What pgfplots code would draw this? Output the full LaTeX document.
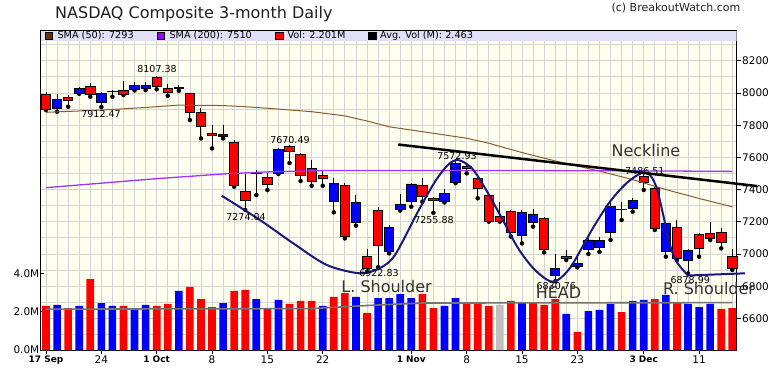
\documentclass[border=0pt]{standalone}
\usepackage{pgfplots}
\pgfplotsset{compat=1.18}
\usepackage{pgfplotstable}
\usepackage{fontspec}
\setmainfont{DejaVu Sans}
\definecolor{bgivory}{RGB}{255,255,240}
\definecolor{bandc}{RGB}{224,224,248}
\definecolor{gridc}{RGB}{212,212,212}
\definecolor{smafifty}{RGB}{140,90,45}
\definecolor{smatwo}{RGB}{160,50,255}
\definecolor{navyc}{RGB}{25,25,125}
\definecolor{candred}{RGB}{255,0,0}
\definecolor{candblue}{RGB}{0,0,255}
\definecolor{volgray}{RGB}{192,192,192}
\definecolor{legbrown}{RGB}{102,51,0}
\definecolor{legpurple}{RGB}{153,0,255}

\pgfplotstableread{
i O H L C
0 7991 8004 7894 7900
1 7905 7991 7884 7960
2 7971 7987 7915 7952
3 8000 8037 7995 8031
4 8041 8064 7977 7991
5 7940 8008 7912.47 7998
6 8008 8018 7977 8011
7 8018 8074 7987 7991
8 8023 8070 8016 8047
9 8031 8066 8018 8047
10 8097 8107.38 8023 8043
11 8031 8054 7983 8004
12 8034 8052 8014 8031
13 7998 8000 7832 7880
14 7880 7905 7718 7791
15 7749 7801 7656 7737
16 7731 7801 7718 7743
17 7693 7708 7418 7424
18 7391 7495 7274.04 7331
19 7505 7522 7366 7502
20 7476 7501 7397 7433
21 7499 7660 7497 7650
22 7668 7680 7565 7640
23 7619 7625 7453 7491
24 7532 7584 7424 7449
25 7489 7515 7424 7470
26 7329 7474 7259 7439
27 7427 7439 7097 7108
28 7197 7366 7176 7321
29 6985 7029 6890 6911
30 7269 7294 6918 7052
31 7019 7180 7004 7163
32 7277 7371 7270 7308
33 7329 7439 7294 7435
34 7427 7470 7325 7358
35 7346 7356 7255.88 7331
36 7325 7404 7320 7377
37 7443 7580 7440 7565
38 7544 7563 7501 7530
39 7470 7480 7346 7408
40 7364 7371 7201 7205
41 7232 7325 7201 7205
42 7263 7273 7108 7135
43 7118 7273 7066 7259
44 7197 7280 7170 7249
45 7222 7228 7010 7031
46 6870 6998 6830.76 6911
47 6985 7025 6963 6973
48 6921 6983 6917 6942
49 7029 7101 7000 7087
50 7039 7108 7014 7085
51 7135 7325 7087 7298
52 7277 7325 7211 7274
53 7284 7346 7263 7333
54 7482 7496 7398 7445
55 7408 7418 7149 7159
56 7015 7201 6983 7190
57 7166 7211 6963 6973
58 6959 7029 6878.99 7023
59 7122 7128 6983 7035
60 7126 7201 7087 7097
61 7132 7159 7035 7073
62 6985 7029 6901 6911
}\candles

% c: 0 red, 1 blue, 2 gray
\pgfplotstableread{
i v c
0 2.30 0
1 2.35 1
2 2.19 0
3 2.30 1
4 3.70 0
5 2.45 1
6 2.30 1
7 2.30 0
8 2.10 1
9 2.35 1
10 2.30 0
11 2.40 0
12 3.08 1
13 3.29 0
14 2.66 0
15 2.24 0
16 2.45 1
17 3.08 0
18 3.13 0
19 2.66 1
20 2.14 0
21 2.61 1
22 2.40 0
23 2.56 0
24 2.56 0
25 2.30 1
26 2.77 0
27 2.97 0
28 2.77 1
29 1.93 0
30 2.71 1
31 2.71 1
32 2.92 1
33 2.71 1
34 2.92 0
35 2.19 0
36 2.30 1
37 2.71 1
38 2.45 0
39 2.45 0
40 2.30 0
41 2.35 2
42 2.56 0
43 2.50 1
44 2.45 0
45 2.35 0
46 2.66 0
47 1.88 1
48 0.94 0
49 2.03 1
50 2.09 1
51 2.40 1
52 1.98 0
53 2.56 1
54 2.61 1
55 2.66 0
56 2.87 1
57 2.50 0
58 2.40 1
59 2.24 1
60 2.40 1
61 2.14 0
62 2.19 0
}\volume

\pgfplotsset{
  basegeom/.style={scale only axis, width=696pt, height=320pt,
    at={(40.5pt,26pt)}, anchor=south west, xmin=-0.497, xmax=62.38},
  pricegeom/.style={basegeom, ymin=6403.7, ymax=8391.3},
}

\begin{document}
\begin{tikzpicture}
\path[use as bounding box] (0,0) rectangle (780pt,376pt);

% ---------- background, grid, price axis ----------
\begin{axis}[pricegeom,
  axis background/.style={fill=bgivory},
  axis line style={black, line width=0.9pt},
  xtick={0,5,10,15,20,25,33,38,43,48,54,59},
  xticklabels={{\bfseries\fontsize{9}{10}\selectfont 17 Sep},24,{\bfseries\fontsize{9}{10}\selectfont 1 Oct},8,15,22,{\bfseries\fontsize{9}{10}\selectfont 1 Nov},8,15,23,{\bfseries\fontsize{9}{10}\selectfont 3 Dec},11},
  minor xtick={0,...,62},
  ytick={6600,6800,...,8200},
  yticklabels={6600,6800,7000,7200,7400,7600,7800,8000,8200},
  minor ytick={6500,6700,...,8300},
  grid=both,
  major grid style={gridc, line width=0.8pt},
  minor grid style={gridc, line width=0.8pt},
  xtick pos=left, ytick pos=right, yticklabel pos=right,
  tick align=outside,
  major tick length=4pt, minor tick length=0pt,
  tick style={black, line width=0.8pt},
  xticklabel style={font=\fontsize{10.5}{12}\selectfont, inner sep=1.5pt},
  yticklabel style={font=\fontsize{10.5}{12}\selectfont, anchor=west, inner sep=1.5pt},
]
\fill[bandc] (rel axis cs:0,0.9666) rectangle (rel axis cs:1,0.998);
\end{axis}

% ---------- volume ----------
\begin{axis}[basegeom, ymin=0, ymax=16.69,
  axis x line=none, axis y line*=left,
  axis line style={black, line width=0.9pt},
  ytick={0,2,4}, yticklabels={0.0M,2.0M,4.0M},
  tick align=inside, major tick length=4pt,
  tick style={black, line width=0.8pt},
  yticklabel style={font=\fontsize{10.5}{12}\selectfont, anchor=east, inner sep=1pt},
]
\addplot[ybar, bar width=0.69, bar shift=0pt, fill=candred, draw=none]
  table[x=i, y expr={ifthenelse(\thisrow{c}==0,\thisrow{v},0)}]{\volume};
\addplot[ybar, bar width=0.69, bar shift=0pt, fill=candblue, draw=none]
  table[x=i, y expr={ifthenelse(\thisrow{c}==1,\thisrow{v},0)}]{\volume};
\addplot[ybar, bar width=0.69, bar shift=0pt, fill=volgray, draw=none]
  table[x=i, y expr={ifthenelse(\thisrow{c}==2,\thisrow{v},0)}]{\volume};
\addplot[sharp plot, black!55, line width=1.6pt] coordinates {
  (0,2.13) (24,2.16) (29,2.32) (34,2.45) (62,2.47)};
\end{axis}

% ---------- wicks ----------
\begin{axis}[pricegeom, hide axis, clip=false]
\addplot[only marks, mark=none,
  error bars/.cd, y dir=plus, y explicit, error mark=none,
  error bar style={black, line width=1pt}]
  table[x=i, y=L, y error plus expr=\thisrow{H}-\thisrow{L}]{\candles};
\end{axis}

% ---------- bodies ----------
\begin{axis}[pricegeom, hide axis, clip=false, ybar stacked, bar width=0.85]
\addplot[draw=none, fill=none] table[x=i, y expr={min(\thisrow{O},\thisrow{C})}]{\candles};
\addplot[fill=candred, draw=black, line width=0.8pt] table[x=i, y expr={max(\thisrow{O}-\thisrow{C},0)}]{\candles};
\addplot[fill=candblue, draw=black, line width=0.8pt] table[x=i, y expr={max(\thisrow{C}-\thisrow{O},0)}]{\candles};
\end{axis}

% ---------- overlays ----------
\begin{axis}[pricegeom, hide axis, clip=false]
\addplot[smafifty, line width=1pt] coordinates {
 (0,7880) (5,7894) (9,7910) (12,7925) (16,7922) (18,7915) (21,7900) (24,7884)
 (27,7858) (29,7826) (31,7790) (34,7760) (38,7719) (40,7688) (43,7630) (46,7578)
 (50,7515) (53,7462) (56,7400) (59,7345) (62,7293)};
\addplot[smatwo, line width=1.3pt] coordinates {
 (0,7412) (5,7440) (10,7468) (16,7497) (20,7510) (25,7518) (40,7519) (55,7516) (62,7513)};
\addplot[navyc, line width=2pt, smooth, tension=0.5] coordinates {
 (15.87,7362) (19.33,7211) (22.34,7066) (25.36,6932) (28.36,6880) (30.17,6913)
 (31.53,6994) (33.60,7263) (35.14,7449) (36.31,7553) (37.22,7584) (38.46,7534)
 (39.66,7410) (41.17,7224) (42.64,7037) (44.17,6901) (45.80,6828) (47.33,6913)
 (49.41,7161) (50.95,7325) (52.46,7441) (53.81,7503) (54.56,7491) (55.17,7410)
 (55.76,7242) (56.37,7056) (56.97,6952) (57.88,6875)};
\addplot[navyc, line width=2pt] coordinates {(57.88,6866) (63.14,6880)};
\addplot[black, line width=2.5pt] coordinates {(31.82,7680) (64.23,7422)};

\begin{scope}[every node/.style={font=\fontsize{9.5}{11}\selectfont, inner sep=0pt}]
\node at (axis cs:10.03,8149) {8107.38};
\node at (axis cs:4.97,7869.5) {7912.47};
\node at (axis cs:22.04,7708) {7670.49};
\node at (axis cs:18.07,7229.8) {7274.04};
\node at (axis cs:30.08,6882) {6922.83};
\node at (axis cs:35.05,7211) {7255.88};
\node at (axis cs:37.13,7608.7) {7572.93};
\node at (axis cs:46.1,6798) {6830.76};
\node at (axis cs:54.1,7515.5) {7486.51};
\node at (axis cs:58.2,6838.5) {6878.99};
\end{scope}
\begin{scope}[every node/.style={font=\fontsize{16}{18}\selectfont, text=black!80, inner sep=0pt}]
\node at (axis cs:30.77,6798) {L. Shoulder};
\node at (axis cs:46.3,6758) {HEAD};
\node at (axis cs:54.2,7640) {Neckline};
\node at (axis cs:59.9,6783) {R. Shoulder};
\end{scope}
\end{axis}

% ---------- title, copyright, legend ----------
\node[anchor=base west, inner sep=0pt, font=\fontsize{16}{18}\selectfont, text=black!88] at (55pt,358pt) {NASDAQ Composite 3-month Daily};
\node[anchor=base east, inner sep=0pt, font=\fontsize{11}{13}\selectfont, text=black!88] at (740.5pt,364.5pt) {(c) BreakoutWatch.com};
\begin{scope}[every node/.style={anchor=base west, inner sep=0pt, font=\fontsize{9.7}{11}\selectfont}]
\filldraw[fill=legbrown, draw=black, line width=0.6pt] (45pt,336.8pt) rectangle (52.5pt,344pt);
\node at (57.3pt,337.7pt) {SMA (50): 7293};
\filldraw[fill=legpurple, draw=black, line width=0.6pt] (157pt,336.8pt) rectangle (164.5pt,344pt);
\node at (169.3pt,337.7pt) {SMA (200): 7510};
\filldraw[fill=candred, draw=black, line width=0.6pt] (275.5pt,336.8pt) rectangle (283pt,344pt);
\node at (287.3pt,337.7pt) {Vol: 2.201M};
\filldraw[fill=black, draw=black, line width=0.6pt] (368.5pt,336.8pt) rectangle (376pt,344pt);
\node at (380pt,337.7pt) {Avg. Vol (M): 2.463};
\end{scope}
\end{tikzpicture}
\end{document}
